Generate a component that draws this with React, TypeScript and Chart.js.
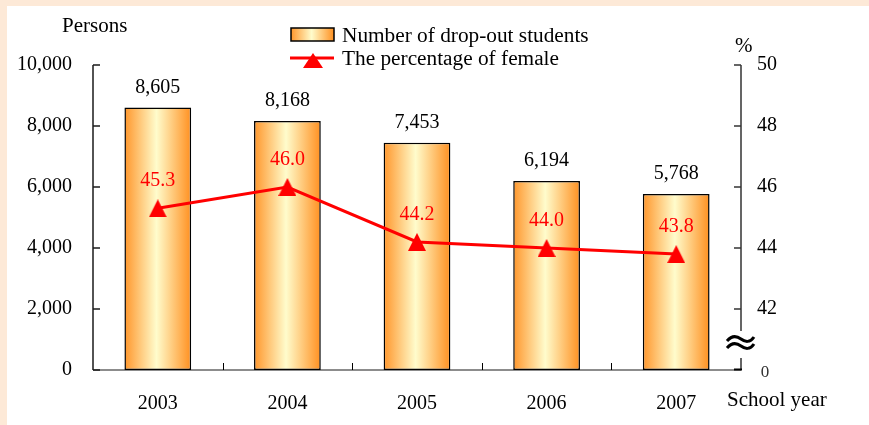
import React, { useEffect, useRef } from 'react';
import { Chart, registerables } from 'chart.js';

Chart.register(...registerables);

// ---- data ----
const years = ['2003', '2004', '2005', '2006', '2007'];
const dropouts = [8605, 8168, 7453, 6194, 5768];
const femalePct = [45.3, 46.0, 44.2, 44.0, 43.8];
const leftTicks = [0, 2000, 4000, 6000, 8000, 10000];
const rightTicks = [42, 44, 46, 48, 50];

const W = 869;
const H = 425;
const SERIF = '"Liberation Serif", "Times New Roman", serif';
const BAR_PCT = 0.515;
const PEACH = '#FDE9D7';

function makeGrad(ctx: CanvasRenderingContext2D, x0: number, x1: number) {
  const g = ctx.createLinearGradient(x0, 0, x1, 0);
  g.addColorStop(0, '#FF962B');
  g.addColorStop(0.48, '#FFFCCC');
  g.addColorStop(1, '#FF9020');
  return g;
}

function makeTriangle(w: number, h: number) {
  const c = document.createElement('canvas');
  c.width = w;
  c.height = h;
  const g = c.getContext('2d')!;
  g.fillStyle = '#FF0000';
  g.beginPath();
  g.moveTo(w / 2, 0);
  g.lineTo(w, h);
  g.lineTo(0, h);
  g.closePath();
  g.fill();
  return c;
}

const decorPlugin = {
  id: 'decor',
  beforeDraw(chart: any) {
    const ctx = chart.ctx as CanvasRenderingContext2D;
    ctx.save();
    ctx.fillStyle = PEACH;
    ctx.fillRect(0, 0, W, H);
    ctx.fillStyle = '#FFFFFF';
    ctx.fillRect(7, 6, W - 7, H - 6);
    ctx.restore();
  },
  beforeDatasetsDraw(chart: any) {
    const ctx = chart.ctx as CanvasRenderingContext2D;
    const a = chart.chartArea;
    ctx.save();
    // x axis line (gray)
    ctx.strokeStyle = '#8C8C8C';
    ctx.lineWidth = 2;
    ctx.beginPath();
    ctx.moveTo(a.left, a.bottom);
    ctx.lineTo(a.right, a.bottom);
    ctx.stroke();
    // category boundary ticks
    ctx.strokeStyle = '#000';
    ctx.lineWidth = 1;
    const step = (a.right - a.left) / years.length;
    for (let i = 1; i < years.length; i++) {
      const x = Math.round(a.left + step * i) + 0.5;
      ctx.beginPath();
      ctx.moveTo(x, a.bottom);
      ctx.lineTo(x, a.bottom - 7);
      ctx.stroke();
    }
    ctx.restore();
  },
  afterDatasetsDraw(chart: any) {
    const ctx = chart.ctx as CanvasRenderingContext2D;
    const a = chart.chartArea;
    const ys = chart.scales.y;
    const y2 = chart.scales.y2;
    ctx.save();

    // left axis
    ctx.strokeStyle = '#1A1A1A';
    ctx.lineWidth = 1.5;
    ctx.beginPath();
    ctx.moveTo(a.left, a.top);
    ctx.lineTo(a.left, a.bottom);
    ctx.stroke();
    leftTicks.forEach((v) => {
      const y = ys.getPixelForValue(v);
      ctx.beginPath();
      ctx.moveTo(a.left, y);
      ctx.lineTo(a.left + 7, y);
      ctx.stroke();
    });

    // right axis with break
    ctx.strokeStyle = '#333';
    ctx.beginPath();
    ctx.moveTo(a.right, a.top);
    ctx.lineTo(a.right, 331);
    ctx.moveTo(a.right, 358);
    ctx.lineTo(a.right, a.bottom);
    ctx.stroke();
    rightTicks.forEach((v) => {
      const y = y2.getPixelForValue(v);
      ctx.beginPath();
      ctx.moveTo(a.right - 7, y);
      ctx.lineTo(a.right, y);
      ctx.stroke();
    });
    ctx.strokeStyle = '#000';
    ctx.lineWidth = 2;
    ctx.beginPath();
    ctx.moveTo(a.right - 7, a.bottom - 0.5);
    ctx.lineTo(a.right + 1, a.bottom - 0.5);
    ctx.stroke();
    // break symbol
    ctx.lineWidth = 3;
    ctx.strokeStyle = '#000';
    [339, 346].forEach((y) => {
      ctx.beginPath();
      ctx.moveTo(727, y + 2);
      ctx.bezierCurveTo(732, y - 4, 737, y - 3, 741, y);
      ctx.bezierCurveTo(745, y + 3, 750, y + 4, 754, y - 2);
      ctx.stroke();
    });
    // right "0"
    ctx.fillStyle = '#333';
    ctx.font = `17px ${SERIF}`;
    ctx.textAlign = 'center';
    ctx.textBaseline = 'middle';
    ctx.fillText('0', 765, 373);

    // bar value labels
    ctx.fillStyle = '#000';
    ctx.font = `20px ${SERIF}`;
    ctx.textAlign = 'center';
    ctx.textBaseline = 'alphabetic';
    const barMeta = chart.getDatasetMeta(0);
    barMeta.data.forEach((el: any, i: number) => {
      ctx.fillText(dropouts[i].toLocaleString('en-US'), el.x, el.y - 15);
    });

    // percentage labels
    ctx.fillStyle = '#FF0000';
    const lineMeta = chart.getDatasetMeta(1);
    lineMeta.data.forEach((el: any, i: number) => {
      ctx.fillText(femalePct[i].toFixed(1), el.x, el.y - 22);
    });

    // axis titles
    ctx.fillStyle = '#000';
    ctx.font = `21px ${SERIF}`;
    ctx.textAlign = 'left';
    ctx.fillText('Persons', 62, 32);
    ctx.fillText('%', 735, 52);
    ctx.fillText('School year', 727, 406);

    // legend
    ctx.fillStyle = makeGrad(ctx, 291, 334);
    ctx.fillRect(291, 28, 43, 13);
    ctx.strokeStyle = '#000';
    ctx.lineWidth = 1.5;
    ctx.strokeRect(291, 28, 43, 13);
    ctx.strokeStyle = '#FF0000';
    ctx.lineWidth = 3;
    ctx.beginPath();
    ctx.moveTo(290, 58);
    ctx.lineTo(334, 58);
    ctx.stroke();
    ctx.fillStyle = '#FF0000';
    ctx.beginPath();
    ctx.moveTo(313, 53);
    ctx.lineTo(323, 68);
    ctx.lineTo(303, 68);
    ctx.closePath();
    ctx.fill();
    ctx.fillStyle = '#000';
    ctx.font = `21.3px ${SERIF}`;
    ctx.fillText('Number of drop-out students', 342, 42);
    ctx.fillText('The percentage of female', 342, 65);

    ctx.restore();
  },
};

export default function App() {
  const ref = useRef<HTMLCanvasElement | null>(null);
  useEffect(() => {
    if (!ref.current) return;
    const tri = makeTriangle(18, 18);
    const chart = new Chart(ref.current, {
      type: 'bar',
      data: {
        labels: years,
        datasets: [
          {
            type: 'bar',
            label: 'Number of drop-out students',
            data: dropouts,
            yAxisID: 'y',
            order: 2,
            backgroundColor: (c: any) => {
              const ch = c.chart;
              const xs = ch.scales.x;
              const area = ch.chartArea;
              if (!xs || !area || c.dataIndex == null) return '#FFB060';
              const cx = xs.getPixelForValue(c.dataIndex);
              const w = ((area.right - area.left) / years.length) * BAR_PCT;
              return makeGrad(ch.ctx, cx - w / 2, cx + w / 2);
            },
            borderColor: '#000',
            borderWidth: 1.5,
            borderSkipped: false,
            barPercentage: BAR_PCT,
            categoryPercentage: 1,
          } as any,
          {
            type: 'line',
            label: 'The percentage of female',
            data: femalePct,
            yAxisID: 'y2',
            order: 1,
            borderColor: '#FF0000',
            borderWidth: 3,
            backgroundColor: '#FF0000',
            pointStyle: tri as any,
            pointRadius: 9,
            tension: 0,
          } as any,
        ],
      },
      options: {
        animation: false,
        responsive: false,
        devicePixelRatio: 1,
        layout: { padding: { top: 65, left: 0, right: 0, bottom: 0 } },
        plugins: { legend: { display: false }, tooltip: { enabled: false } },
        scales: {
          x: {
            type: 'category',
            grid: { display: false, drawTicks: false },
            border: { display: false },
            ticks: { color: '#000', font: { family: SERIF, size: 20 }, padding: 22 },
            afterFit: (s: any) => { s.height = 55; },
          },
          y: {
            position: 'left',
            min: 0,
            max: 10000,
            grid: { display: false, drawTicks: false },
            border: { display: false },
            ticks: {
              stepSize: 2000,
              color: '#000',
              font: { family: SERIF, size: 20 },
              padding: 21,
              callback: (v: any) => Number(v).toLocaleString('en-US'),
            },
            afterFit: (s: any) => { s.width = 93; },
          },
          y2: {
            position: 'right',
            min: 40,
            max: 50,
            grid: { display: false, drawTicks: false },
            border: { display: false },
            ticks: {
              stepSize: 2,
              color: '#000',
              font: { family: SERIF, size: 20 },
              padding: 16,
              callback: (v: any) => (Number(v) === 40 ? '' : String(v)),
            },
            afterFit: (s: any) => { s.width = 128; },
          },
        },
      } as any,
      plugins: [decorPlugin],
    });
    return () => chart.destroy();
  }, []);
  return (
    <div style={{ position: 'fixed', left: 0, top: 0, width: W, height: H }}>
      <canvas ref={ref} width={W} height={H} style={{ display: 'block', width: W, height: H }} />
    </div>
  );
}
